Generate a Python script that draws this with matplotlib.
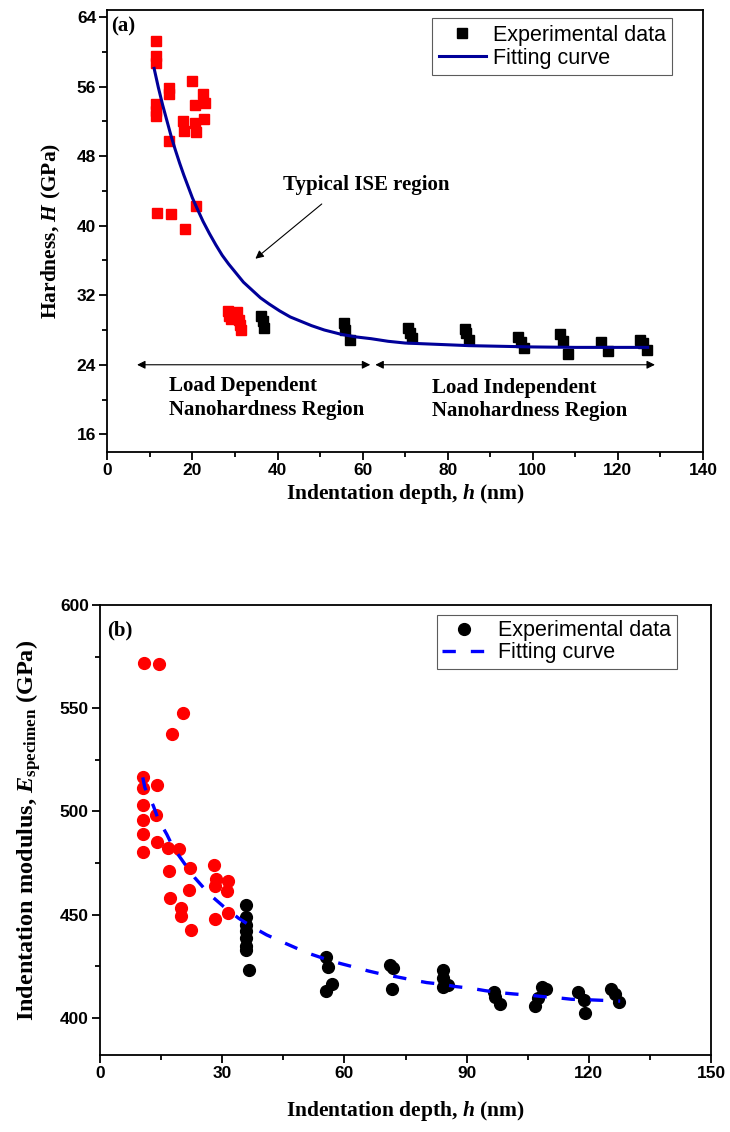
import matplotlib
matplotlib.use("Agg")
from matplotlib import pyplot as plt
from matplotlib.ticker import MultipleLocator
from matplotlib.font_manager import FontProperties

plt.rcParams['mathtext.fontset'] = 'custom'
plt.rcParams['mathtext.rm'] = 'Liberation Serif:bold'
plt.rcParams['mathtext.it'] = 'Liberation Serif:italic:bold'
plt.rcParams['mathtext.bf'] = 'Liberation Serif:bold'

# ---- panel (a): hardness vs depth ----
hard_red_h = [11.4, 11.4, 11.4, 14.6, 14.6, 11.4, 11.4, 11.4, 20.0, 22.6, 20.5, 23.0, 22.8,
              17.8, 18.1, 20.7, 20.8, 14.4, 11.7, 15.0, 18.2, 20.8,
              28.3, 28.6, 29.0, 30.5, 31.0, 31.2, 31.4]
hard_red_H = [61.2, 59.5, 58.7, 55.9, 55.2, 54.0, 53.2, 52.6, 56.6, 55.1, 53.9, 54.1, 52.3,
              52.0, 50.9, 51.8, 50.8, 49.8, 41.5, 41.3, 39.6, 42.3,
              30.2, 29.6, 29.3, 30.1, 29.2, 28.6, 28.0]
hard_blk_h = [36.2, 36.5, 36.9, 55.7, 55.9, 57.1, 70.7, 71.1, 71.5, 84.0, 84.4, 85.0,
              96.5, 97.2, 98.0, 106.3, 107.0, 108.3, 116.1, 117.7, 125.2, 126.0, 126.9]
hard_blk_H = [29.6, 29.0, 28.2, 28.8, 28.0, 26.8, 28.2, 27.7, 27.1, 28.1, 27.6, 26.9,
              27.2, 26.6, 25.9, 27.5, 26.7, 25.2, 26.6, 25.6, 26.9, 26.5, 25.7]
fit_a_h = [11, 12, 13, 14, 15, 16, 17, 18, 19, 20, 21, 22.5, 24, 25.5, 27, 28.5, 30, 32, 34,
           36, 38, 40.5, 43, 45.5, 48, 51, 55, 58.5, 62, 66, 70, 75, 80, 85, 90, 100, 110,
           120, 127]
fit_a_H = [58.1, 55.9, 53.9, 52.1, 50.3, 48.7, 47.2, 45.8, 44.5, 43.2, 42.1, 40.5, 39.1,
           37.8, 36.6, 35.6, 34.7, 33.5, 32.6, 31.7, 31.0, 30.2, 29.5, 29.0, 28.5, 28.0,
           27.5, 27.2, 27.0, 26.7, 26.5, 26.4, 26.3, 26.2, 26.15, 26.05, 26.0, 26.0, 26.0]

# ---- panel (b): modulus vs depth ----
mod_red_h = [10.9, 14.4, 20.3, 17.6, 10.5, 10.5, 13.9, 10.6, 13.7, 10.6, 10.6, 13.9, 16.8,
             19.4, 10.6, 17.0, 22.1, 28.0, 28.5, 31.3, 28.2, 31.1, 21.9, 17.2, 20.0, 19.9,
             31.3, 28.2, 22.4]
mod_red_E = [571.9, 571.3, 547.6, 537.4, 516.8, 511.3, 512.6, 503.2, 498.3, 495.9, 489.2,
             485.3, 482.4, 481.8, 480.4, 471.0, 472.4, 474.3, 467.5, 466.2, 463.7, 461.3,
             462.0, 458.1, 453.2, 449.2, 451.0, 448.0, 442.8]
mod_blk_h = [35.8, 35.8, 35.8, 35.8, 35.8, 35.9, 35.9, 36.6,
             55.6, 56.0, 56.9, 55.6, 71.2, 72.0, 71.8, 84.1, 84.1, 84.3, 85.5,
             96.8, 97.0, 98.2, 108.4, 109.6, 107.6, 106.9, 117.3, 118.7, 119.0,
             125.4, 126.4, 127.5]
mod_blk_E = [454.8, 449.1, 445.1, 441.9, 438.6, 434.6, 433.0, 423.4,
             429.7, 424.5, 416.2, 413.1, 425.6, 424.0, 413.8, 423.2, 419.1, 415.0, 415.9,
             412.7, 410.2, 406.5, 415.0, 414.2, 409.4, 405.8, 412.3, 408.6, 402.4,
             413.8, 411.8, 407.8]
fit_b_h = [10.5, 11.0, 13.1, 14.3, 16.4, 18.0, 20.9, 23.3, 26.8, 30.3, 34.0, 37.2, 40.9,
           44.6, 48.3, 51.6, 55.2, 58.9, 62.6, 65.9, 69.6, 72.8, 76.9, 80.2, 84.3, 87.2,
           91.2, 94.5, 98.2, 101.5, 105.4, 108.8, 112.5, 115.8, 119.5, 123.2, 127.7]
fit_b_E = [516.5, 511.6, 502.7, 496.2, 488.9, 482.4, 474.3, 467.8, 460.0, 454.0, 448.3,
           444.3, 440.2, 436.9, 433.7, 431.0, 428.6, 426.4, 424.5, 422.7, 421.0, 419.9,
           418.3, 417.1, 416.2, 415.2, 414.3, 413.2, 412.2, 411.6, 411.0, 410.3, 409.7,
           409.0, 408.8, 408.5, 408.1]

tick_font = {'family': 'Liberation Sans', 'weight': 'bold', 'size': 12.5}
label_font = {'family': 'Liberation Serif', 'weight': 'bold', 'size': 15.5}
note_font = {'family': 'Liberation Serif', 'weight': 'bold', 'size': 15}
leg_font = {'family': 'Liberation Sans', 'size': 15.5}


def style_axis(ax, xmaj, xmin, ymaj, ymin):
    ax.xaxis.set_major_locator(MultipleLocator(xmaj))
    ax.xaxis.set_minor_locator(MultipleLocator(xmin))
    ax.yaxis.set_major_locator(MultipleLocator(ymaj))
    ax.yaxis.set_minor_locator(MultipleLocator(ymin))
    ax.tick_params(which='both', direction='out', top=False, right=False, width=1.3)
    ax.tick_params(which='major', length=6, pad=2)
    ax.tick_params(which='minor', length=3.5)
    for s in ax.spines.values():
        s.set_linewidth(1.3)
    for lb in ax.get_xticklabels() + ax.get_yticklabels():
        lb.set_fontproperties(FontProperties(**tick_font))


def arrow(ax, start, end, style):
    ax.annotate('', xy=end, xytext=start,
                arrowprops=dict(arrowstyle=style, color='black', lw=0.8, mutation_scale=12,
                                shrinkA=0, shrinkB=0))


fig = plt.figure(figsize=(7.3, 11.32), dpi=100)

# panel (a)
ax1 = fig.add_axes([0.147, 0.601, 0.816, 0.390])
ax1.plot(hard_red_h, hard_red_H, 's', color='#ff0000', ms=7.5, mec='#ff0000', zorder=2)
ax1.plot(hard_blk_h, hard_blk_H, 's', color='black', ms=7.5, zorder=2, label='Experimental data')
ax1.plot(fit_a_h, fit_a_H, '-', color='#000099', lw=2.2, zorder=3, label='Fitting curve')
ax1.set_xlim(0, 140)
ax1.set_ylim(14, 64.8)
style_axis(ax1, 20, 10, 8, 4)
ax1.set_xlabel(r'Indentation depth, $h$ (nm)', fontdict=label_font, labelpad=3)
ax1.set_ylabel(r'Hardness, $H$ (GPa)', fontdict=label_font, labelpad=10)
ax1.text(0.006, 0.985, '(a)', transform=ax1.transAxes, ha='left', va='top', fontdict=note_font)
ax1.text(41.3, 44.7, 'Typical ISE region', ha='left', va='center', fontdict=note_font)
arrow(ax1, (50.4, 42.5), (34.8, 36.2), '-|>')
arrow(ax1, (7.0, 24), (61.8, 24), '<|-|>')
arrow(ax1, (63.0, 24), (128.7, 24), '<|-|>')
ax1.text(14.4, 20.2, 'Load Dependent\nNanohardness Region', ha='left', va='center',
         fontdict=note_font, linespacing=1.25)
ax1.text(76.2, 20.0, 'Load Independent\nNanohardness Region', ha='left', va='center',
         fontdict=note_font, linespacing=1.25)
leg1 = ax1.legend(loc='upper right', bbox_to_anchor=(0.948, 0.982), numpoints=1,
                  prop=leg_font, frameon=True, fancybox=False, edgecolor='#333333',
                  handlelength=2.2, handletextpad=0.3, labelspacing=0.1, borderpad=0.3,
                  borderaxespad=0)
leg1.get_frame().set_linewidth(0.8)

# panel (b)
ax2 = fig.add_axes([0.137, 0.068, 0.837, 0.3975])
ax2.plot(mod_red_h, mod_red_E, 'o', color='#ff0000', ms=8.5, mec='#ff0000', zorder=2)
ax2.plot(mod_blk_h, mod_blk_E, 'o', color='black', ms=8.5, zorder=2, label='Experimental data')
ax2.plot(fit_b_h, fit_b_E, '--', color='#0000ff', lw=2.4, dashes=(4, 4.5), zorder=3,
         label='Fitting curve')
ax2.set_xlim(0, 150)
ax2.set_ylim(382, 600)
style_axis(ax2, 30, 15, 50, 25)
ax2.set_xlabel(r'Indentation depth, $h$ (nm)', fontdict=label_font, labelpad=13)
ax2.set_ylabel(r'Indentation modulus, $E_{\mathrm{specimen}}$ (GPa)',
               fontdict={'family': 'Liberation Serif', 'weight': 'bold', 'size': 17.5},
               labelpad=12)
ax2.text(0.012, 0.965, '(b)', transform=ax2.transAxes, ha='left', va='top', fontdict=note_font)
leg2 = ax2.legend(loc='upper right', bbox_to_anchor=(0.944, 0.978), numpoints=1,
                  prop=leg_font, frameon=True, fancybox=False, edgecolor='#333333',
                  handlelength=2.0, handletextpad=0.6, labelspacing=0.05, borderpad=0.25,
                  borderaxespad=0)
leg2.get_frame().set_linewidth(0.8)

fig.savefig('out.png', dpi=100)
